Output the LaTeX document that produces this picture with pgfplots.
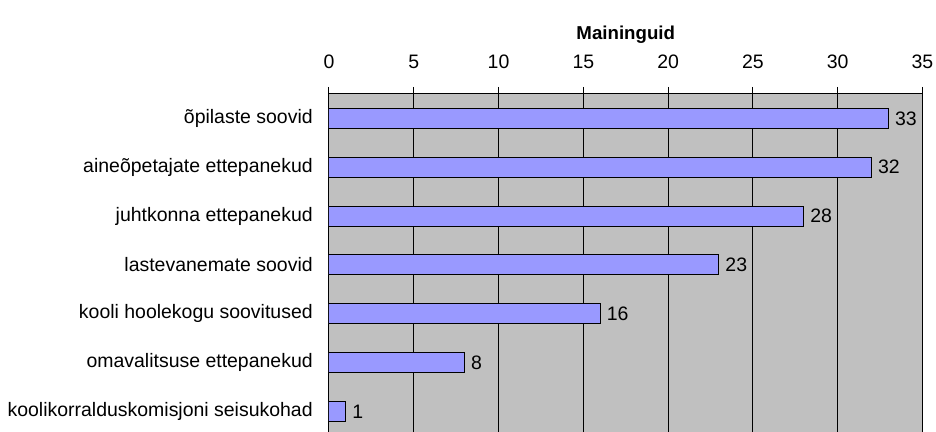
\documentclass[border=0pt]{standalone}
\usepackage{fontspec}
\setmainfont{Liberation Sans}
\usepackage{pgfplots}
\pgfplotsset{compat=1.18}
\definecolor{barblue}{RGB}{153,153,255}
\definecolor{bggray}{RGB}{192,192,192}
\begin{document}
\begin{tikzpicture}
\begin{axis}[
    name=main,
    at={(0,0)}, anchor=south west,
    scale only axis,
    width=445.1pt, height=253.5pt,
    xbar, bar width=15pt,
    y dir=reverse,
    xmin=0, xmax=35, ymin=-0.5, ymax=6.42,
    axis x line=top, axis y line=left,
    axis line style={-, line width=0.75pt},
    axis background/.style={fill=bggray},
    xtick={0,5,...,35},
    xmajorgrids, major grid style={black, line width=0.75pt},
    ytick={0,...,6},
    yticklabels={õpilaste soovid, aineõpetajate ettepanekud, juhtkonna ettepanekud,
        lastevanemate soovid, kooli hoolekogu soovitused, omavalitsuse ettepanekud,
        koolikorralduskomisjoni seisukohad},
    minor ytick={-0.5,0.5,...,5.5},
    tick align=outside,
    major tick length=5.25pt,
    ytick style={draw=none},
    minor tick style={black, line width=0.75pt},
    minor tick length=5.25pt,
    every tick/.style={black, line width=0.75pt},
    /pgf/number format/assume math mode=true,
    tick label style={font=\fontsize{14.6}{17}\selectfont, inner sep=0pt},
    xticklabel style={anchor=center, yshift=18.75pt},
    yticklabel style={anchor=east, xshift=-6.75pt},
    xlabel={\textbf{Maininguid}},
    every axis x label/.style={at={(axis description cs:0.5,1)}, anchor=center,
        yshift=44.25pt, font=\fontsize{14}{17}\selectfont},
    nodes near coords,
    nodes near coords style={anchor=west, inner sep=0pt, xshift=4.5pt,
        font=\fontsize{14.6}{17}\selectfont},
]
\addplot[fill=barblue, draw=black, line width=0.75pt] coordinates {
    (33,0) (32,1) (28,2) (23,3) (16,4) (8,5) (1,6)
};
\end{axis}
\pgfresetboundingbox
\path[use as bounding box] (-246.75pt,0pt) rectangle (455.25pt,324pt);
\end{tikzpicture}
\end{document}
